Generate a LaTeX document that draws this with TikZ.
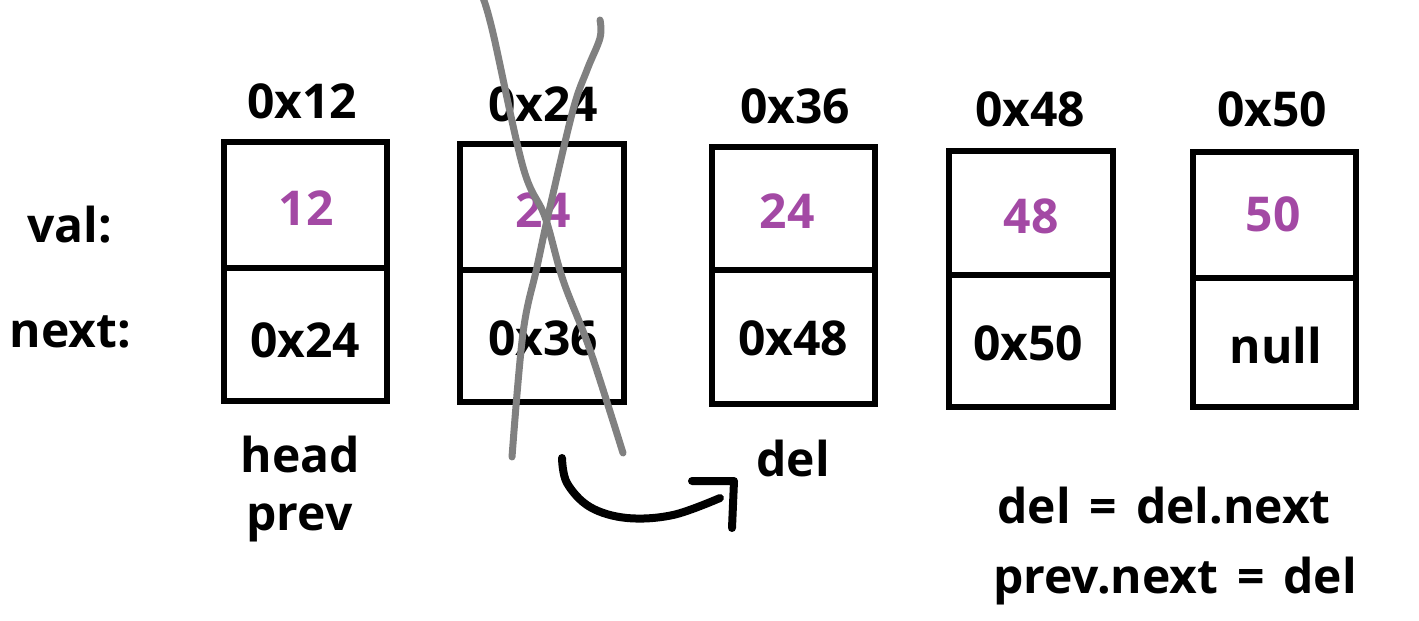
\documentclass[tikz,border=0pt]{standalone}
\usepackage{fontspec}
\setmainfont{Open Sans}
\definecolor{valpurple}{HTML}{A349A4}
\definecolor{strikegray}{HTML}{808080}
\begin{document}
\begin{tikzpicture}[x=1pt,y=-1pt,
  cell/.style={draw, line width=5.5pt, inner sep=0pt, minimum width=163pt},
  lbl/.style={font=\fontsize{48}{55}\selectfont\bfseries, inner sep=0pt, anchor=base},
  val/.style={lbl, text=valpurple},
  strike/.style={draw=strikegray, line width=7pt, line cap=round, line join=round},
  pen/.style={draw=black, line width=8pt, line cap=round, line join=round}]
\useasboundingbox (0,0) rectangle (1419,621);
% cells
\node[cell, minimum height=126pt] (v1) at (305.5,205) {};
\node[cell, minimum height=133pt] (n1) at (305.5,334.5) {};
\node[cell, minimum width=164pt, minimum height=126pt] (v2) at (542,207) {};
\node[cell, minimum width=164pt, minimum height=132pt] (n2) at (542,336) {};
\node[cell, minimum height=123pt] (v3) at (793.5,208.5) {};
\node[cell, minimum height=134pt] (n3) at (793.5,337) {};
\node[cell, minimum width=164pt, minimum height=124pt] (v4) at (1031,213) {};
\node[cell, minimum width=164pt, minimum height=132pt] (n4) at (1031,341) {};
\node[cell, minimum height=126pt] (v5) at (1274.5,215) {};
\node[cell, minimum height=129pt] (n5) at (1274.5,342.5) {};
% addresses
\node[lbl] (a1) at (302,118) {0x12};
\node[lbl] (a2) at (543,121) {0x24};
\node[lbl] (a3) at (795,123) {0x36};
\node[lbl] (a4) at (1030,126) {0x48};
\node[lbl] (a5) at (1272,126) {0x50};
% values
\node[val] (t1) at (306,225) {12};
\node[val] (t2) at (543,227) {24};
\node[val] (t3) at (787,228) {24};
\node[val] (t4) at (1031,233) {48};
\node[val] (t5) at (1273,231) {50};
% next fields
\node[lbl] (p1) at (305,357) {0x24};
\node[lbl] (p2) at (543,355) {0x36};
\node[lbl] (p3) at (793,355) {0x48};
\node[lbl] (p4) at (1028,360) {0x50};
\node[lbl] (p5) at (1276,363) {null};
% row labels
\node[lbl] (rv) at (70,242) {val:};
\node[lbl] (rn) at (70.5,347) {next:};
% pointers
\node[lbl] (head) at (300.5,472) {head};
\node[lbl] (prev) at (299.5,530) {prev};
\node[lbl] (del) at (793,476) {del};
\node[lbl] (c1) at (1164,523) {\spaceskip=19pt del = del.next};
\node[lbl] (c2) at (1175,593) {\spaceskip=19pt prev.next = del};
% strike-through of node 0x24
\draw[strike] plot[smooth, tension=0.6] coordinates {(483,-2) (493,33) (523,167) (545,217) (563,280) (590,350) (623,453)};
\draw[strike] plot[smooth, tension=0.6] coordinates {(600,20) (600,38) (587,70) (573,110) (550,207) (537,267) (523,333) (512,457)};
% hand-drawn arrow
\coordinate (s) at (562,458);
\coordinate (e) at (720,498);
\draw[pen] plot[smooth, tension=0.6] coordinates {(s) (567,483) (590,507) (627,518) (673,515) (e)};
\coordinate (h1) at (692,481);
\coordinate (h2) at (734,481);
\coordinate (h3) at (732,528);
\draw[pen] (h1) -- (h2) -- (h3);
\end{tikzpicture}
\end{document}
